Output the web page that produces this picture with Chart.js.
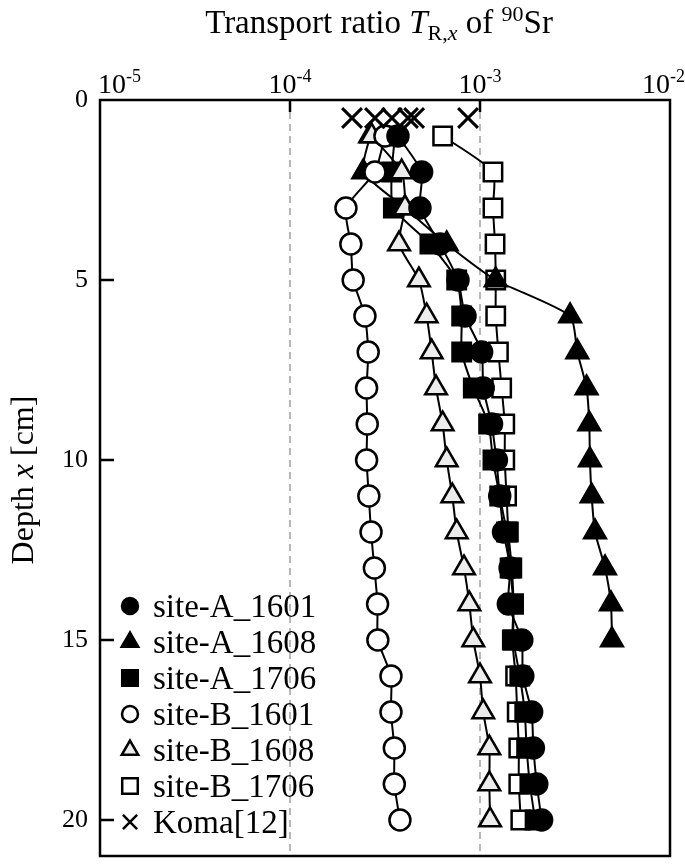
<!DOCTYPE html>
<html>
<head>
<meta charset="utf-8">
<script src="https://cdn.jsdelivr.net/npm/chart.js@4.4.1/dist/chart.umd.min.js"></script>
<style>
    html, body { margin: 0; padding: 0; background: #fff; overflow: hidden; }
    canvas { display: block; }
</style>
</head>
<body>
<canvas id="chart" width="685" height="864"></canvas>
<script>
// Profundidades (cm)
const depths = [1, 2, 3, 4, 5, 6, 7, 8, 9, 10, 11, 12, 13, 14, 15, 16, 17, 18, 19, 20];
const depthsA1608 = depths.slice(0, 15);
const depthKoma = 0.5;

// Transport ratio
const siteA_1601 = [3.70e-4, 4.93e-4, 4.83e-4, 6.16e-4, 7.66e-4, 8.34e-4, 1.02e-3, 1.04e-3, 1.15e-3, 1.22e-3,
                    1.27e-3, 1.33e-3, 1.44e-3, 1.41e-3, 1.66e-3, 1.68e-3, 1.87e-3, 1.91e-3, 1.99e-3, 2.11e-3];
const siteA_1608 = [2.64e-4, 2.43e-4, 4.03e-4, 6.68e-4, 1.21e-3, 2.98e-3, 3.25e-3, 3.64e-3, 3.76e-3, 3.79e-3,
                    3.87e-3, 4.03e-3, 4.55e-3, 4.89e-3, 4.95e-3];
const siteA_1706 = [3.57e-4, 3.43e-4, 3.50e-4, 5.45e-4, 7.54e-4, 8.01e-4, 8.01e-4, 9.22e-4, 1.11e-3, 1.17e-3,
                    1.27e-3, 1.38e-3, 1.44e-3, 1.50e-3, 1.50e-3, 1.62e-3, 1.72e-3, 1.76e-3, 1.83e-3, 1.95e-3];
const siteB_1601 = [3.16e-4, 2.80e-4, 1.97e-4, 2.09e-4, 2.15e-4, 2.48e-4, 2.58e-4, 2.53e-4, 2.55e-4, 2.53e-4,
                    2.60e-4, 2.67e-4, 2.78e-4, 2.89e-4, 2.90e-4, 3.40e-4, 3.40e-4, 3.54e-4, 3.54e-4, 3.79e-4];
const siteB_1608 = [2.69e-4, 3.87e-4, 4.03e-4, 3.75e-4, 4.77e-4, 5.24e-4, 5.57e-4, 5.87e-4, 6.36e-4, 6.68e-4,
                    7.15e-4, 7.54e-4, 8.24e-4, 8.79e-4, 9.22e-4, 1.00e-3, 1.04e-3, 1.12e-3, 1.12e-3, 1.13e-3];
const siteB_1706 = [6.36e-4, 1.17e-3, 1.17e-3, 1.20e-3, 1.21e-3, 1.21e-3, 1.25e-3, 1.30e-3, 1.35e-3, 1.35e-3,
                    1.38e-3, 1.41e-3, 1.47e-3, 1.50e-3, 1.48e-3, 1.54e-3, 1.57e-3, 1.60e-3, 1.60e-3, 1.64e-3];
const koma = [2.12e-4, 2.80e-4, 3.44e-4, 4.18e-4, 4.50e-4, 8.65e-4];

const seriesNames = ['site-A_1601', 'site-A_1608', 'site-A_1706', 'site-B_1601', 'site-B_1608', 'site-B_1706', 'Koma[12]'];

// Ejes
const xTicks = [1e-5, 1e-4, 1e-3, 1e-2];
const xTickExponents = ['-5', '-4', '-3', '-2'];
const yTicks = [0, 5, 10, 15, 20];

const SERIF = '"Liberation Serif", "DejaVu Serif", serif';

function to_points(vals, ys) {
    return vals.map((v, i) => ({ x: v, y: Array.isArray(ys) ? ys[i] : ys }));
}

// Estilo de cada serie: [pointStyle, radio, relleno, radio en leyenda, orden de dibujo]
const styles = [
    ['circle', 10.5, '#000', 8, 1],
    ['triangle', 12.5, '#000', 9.5, 4],
    ['rect', 13, '#000', 11, 5],
    ['circle', 10.5, '#fff', 8, 2],
    ['triangle', 12.5, '#ececec', 9.5, 3],
    ['rect', 13, '#fff', 11, 6],
    ['crossRot', 14, '#000', 10, 0]
];

const seriesData = [
    to_points(siteA_1601, depths),
    to_points(siteA_1608, depthsA1608),
    to_points(siteA_1706, depths),
    to_points(siteB_1601, depths),
    to_points(siteB_1608, depths),
    to_points(siteB_1706, depths),
    to_points(koma, depthKoma)
];

const datasets = seriesNames.map((name, i) => ({
    label: name,
    data: seriesData[i],
    showLine: i < 6,
    tension: 0.2,
    borderColor: '#000',
    borderWidth: 2,
    pointStyle: styles[i][0],
    pointRadius: styles[i][1],
    pointBackgroundColor: styles[i][2],
    pointBorderColor: '#000',
    pointBorderWidth: i === 6 ? 3 : 2.5,
    order: styles[i][4]
}));

// Dibuja texto con partes de distinta fuente (subindices, superindices)
function draw_runs(ctx, runs, x, y, align) {
    let w = 0;
    runs.forEach(r => { ctx.font = r.font; r.w = ctx.measureText(r.t).width; w += r.w; });
    let cx = align === 'center' ? x - w / 2 : x;
    runs.forEach(r => {
        ctx.font = r.font;
        ctx.fillText(r.t, cx, y + (r.dy || 0));
        cx += r.w;
    });
    return w;
}

const decor = {
    id: 'decor',
    afterDatasetsDraw(chart) {
        const { ctx, chartArea: a, scales: { x, y } } = chart;
        ctx.save();
        ctx.strokeStyle = '#000';
        ctx.fillStyle = '#000';
        ctx.lineWidth = 2.5;

        // marco
        ctx.strokeRect(a.left, a.top, a.right - a.left, a.bottom - a.top);

        // ticks hacia dentro
        ctx.beginPath();
        xTicks.slice(1, -1).forEach(v => {
            const px = x.getPixelForValue(v);
            ctx.moveTo(px, a.top);
            ctx.lineTo(px, a.top + 12);
        });
        yTicks.slice(1).forEach(v => {
            const py = y.getPixelForValue(v);
            ctx.moveTo(a.left, py);
            ctx.lineTo(a.left + 14, py);
        });
        ctx.stroke();

        // etiquetas del eje x (10^n)
        ctx.textBaseline = 'alphabetic';
        xTicks.forEach((v, i) => {
            const runs = [
                { t: '10', font: '28px ' + SERIF },
                { t: xTickExponents[i], font: '18px ' + SERIF, dy: -11 }
            ];
            let w = 0;
            runs.forEach(r => { ctx.font = r.font; w += ctx.measureText(r.t).width; });
            let left = x.getPixelForValue(v) - w / 2;
            left = Math.max(98, Math.min(chart.width - w, left));
            draw_runs(ctx, runs, left, 93, 'left');
        });

        // titulo
        draw_runs(ctx, [
            { t: 'Transport ratio ', font: '33px ' + SERIF },
            { t: 'T', font: 'italic 33px ' + SERIF },
            { t: 'R,', font: '22px ' + SERIF, dy: 7 },
            { t: 'x', font: 'italic 22px ' + SERIF, dy: 7 },
            { t: ' of ', font: '33px ' + SERIF },
            { t: '90', font: '22px ' + SERIF, dy: -12 },
            { t: 'Sr', font: '33px ' + SERIF }
        ], 379, 33, 'center');

        // titulo del eje y
        ctx.save();
        ctx.translate(22, (a.top + a.bottom) / 2 + 2);
        ctx.rotate(-Math.PI / 2);
        draw_runs(ctx, [
            { t: 'Depth ', font: '32px ' + SERIF },
            { t: 'x', font: 'italic 32px ' + SERIF },
            { t: ' [cm]', font: '32px ' + SERIF }
        ], 0, 11, 'center');
        ctx.restore();

        // leyenda
        const n = seriesNames.length;
        seriesNames.forEach((name, i) => {
            const cy = a.bottom - 34 - (n - 1 - i) * 36;
            const mx = a.left + 30;
            ctx.fillStyle = styles[i][2];
            ctx.strokeStyle = '#000';
            ctx.lineWidth = 2.5;
            Chart.helpers.drawPoint(ctx, {
                pointStyle: styles[i][0],
                radius: styles[i][3],
                borderWidth: 2.5,
                rotation: 0
            }, mx, cy);
            ctx.fillStyle = '#000';
            ctx.font = '33px ' + SERIF;
            ctx.fillText(name, a.left + 53, cy + 11);
        });

        ctx.restore();
    }
};

// Quita el margen extra que Chart.js reserva para las etiquetas
function no_label_padding(s) {
    s.paddingTop = 0;
    s.paddingBottom = 0;
    s.paddingLeft = 0;
    s.paddingRight = 0;
}

const ctx_chart = document.getElementById('chart').getContext('2d');
const transportChart = new Chart(ctx_chart, {
    type: 'scatter',
    data: { datasets: datasets },
    options: {
        responsive: false,
        animation: false,
        events: [],
        layout: { autoPadding: false, padding: { left: 0, top: 0, right: 15, bottom: 8 } },
        plugins: {
            legend: { display: false },
            tooltip: { enabled: false },
            title: { display: false }
        },
        scales: {
            x: {
                type: 'logarithmic',
                position: 'top',
                min: 1e-5,
                max: 1e-2,
                afterBuildTicks: s => { s.ticks = xTicks.map(v => ({ value: v })); },
                afterFit: s => { s.height = 100; no_label_padding(s); },
                ticks: { display: false },
                grid: {
                    drawTicks: false,
                    lineWidth: 2,
                    color: c => (c.index > 0 && c.index < xTicks.length - 1) ? '#b8b8b8' : 'rgba(0,0,0,0)'
                },
                border: { display: false, dash: [7, 5] }
            },
            y: {
                type: 'linear',
                reverse: true,
                min: 0,
                max: 21,
                afterBuildTicks: s => { s.ticks = yTicks.map(v => ({ value: v })); },
                afterFit: s => { s.width = 100; no_label_padding(s); },
                ticks: {
                    color: '#000',
                    padding: 12,
                    font: { family: SERIF, size: 26 }
                },
                grid: { display: false, drawTicks: false },
                border: { display: false }
            }
        }
    },
    plugins: [decor]
});
</script>
</body>
</html>
